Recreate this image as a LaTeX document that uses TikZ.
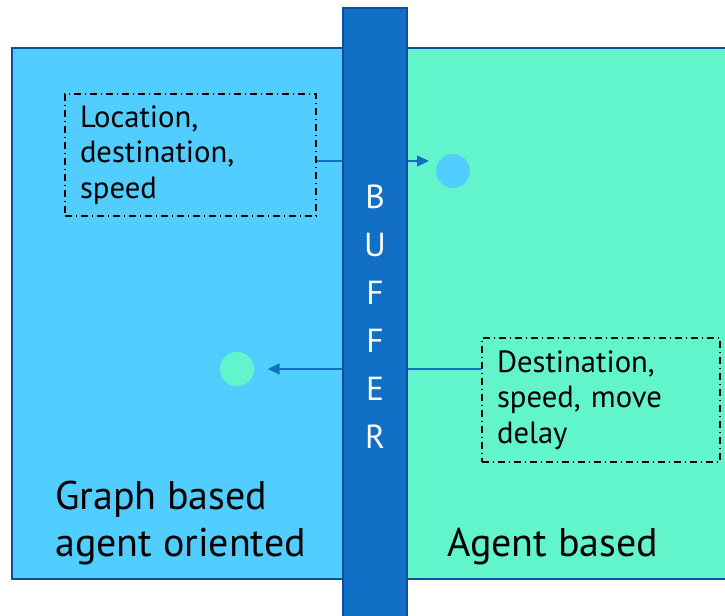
\documentclass[tikz,border=0pt]{standalone}
\usepackage{fontspec}
\setmainfont{PT Sans}
\usetikzlibrary{positioning,calc,arrows.meta}
\definecolor{graphBlue}{RGB}{82,205,255}
\definecolor{agentGreen}{RGB}{98,245,203}
\definecolor{bufferBlue}{RGB}{17,112,197}
\definecolor{edgeBlue}{RGB}{12,80,150}
\tikzset{
    panel/.style={
        rectangle,
        draw=edgeBlue,
        line width=1.5pt,
        inner sep=0pt,
        minimum height=398.25pt
    },
    infobox/.style={
        rectangle,
        draw,
        line width=1.2pt,
        dash pattern=on 5pt off 3pt on 1pt off 3pt,
        align=left,
        inner xsep=11.25pt,
        inner ysep=0pt,
        font=\fontsize{23}{26.5}\selectfont
    },
    agentdot/.style={
        circle,
        inner sep=0pt,
        minimum size=25.5pt
    },
    ptr/.style={
        -{Triangle[length=9pt,width=8pt]},
        line width=1.5pt,
        draw=bufferBlue
    },
    paneltitle/.style={
        anchor=west,
        align=left,
        inner sep=0pt,
        font=\fontsize{30}{35}\selectfont
    }
}

\begin{document}
\begin{tikzpicture}[x=0.75pt, y=-0.75pt]
    \useasboundingbox (0,0) rectangle (725,616);

    % two sides
    \node[panel, fill=graphBlue, minimum width=248.25pt] (graphside) at (177.5,313.5) {};
    \node[panel, fill=agentGreen, minimum width=242.25pt] (agentside) at (568.5,313.5) {};

    \node[paneltitle] (graphtitle) at (55,523) {Graph based\\agent oriented};
    \node[paneltitle] (agenttitle) at (447,547) {Agent based};

    % exchanged data
    \node[infobox, text width=165.75pt, minimum height=91.5pt] (infoA) at (190.5,155)
        {Location,\\destination,\\speed};
    \node[infobox, text width=156pt, minimum height=93pt] (infoB) at (601,400)
        {Destination,\\speed, move\\delay};

    \node[agentdot, fill=graphBlue] (dotA) at (453,171) {};
    \node[agentdot, fill=agentGreen] (dotB) at (237,369) {};

    \coordinate (outA) at ([yshift=-4.5pt]infoA.east);
    \draw[ptr, shorten >=5pt] (outA) -- (outA -| dotA.west);
    \draw[ptr, shorten >=10pt] (infoB.west |- dotB) -- (dotB.east);

    % buffer on top of the arrows
    \node[panel, fill=bufferBlue, minimum width=48pt, minimum height=463.5pt,
          text=white, align=center, font=\fontsize{25}{36}\selectfont] (buffer) at (375,317)
        {B\\U\\F\\F\\E\\R};
\end{tikzpicture}
\end{document}
